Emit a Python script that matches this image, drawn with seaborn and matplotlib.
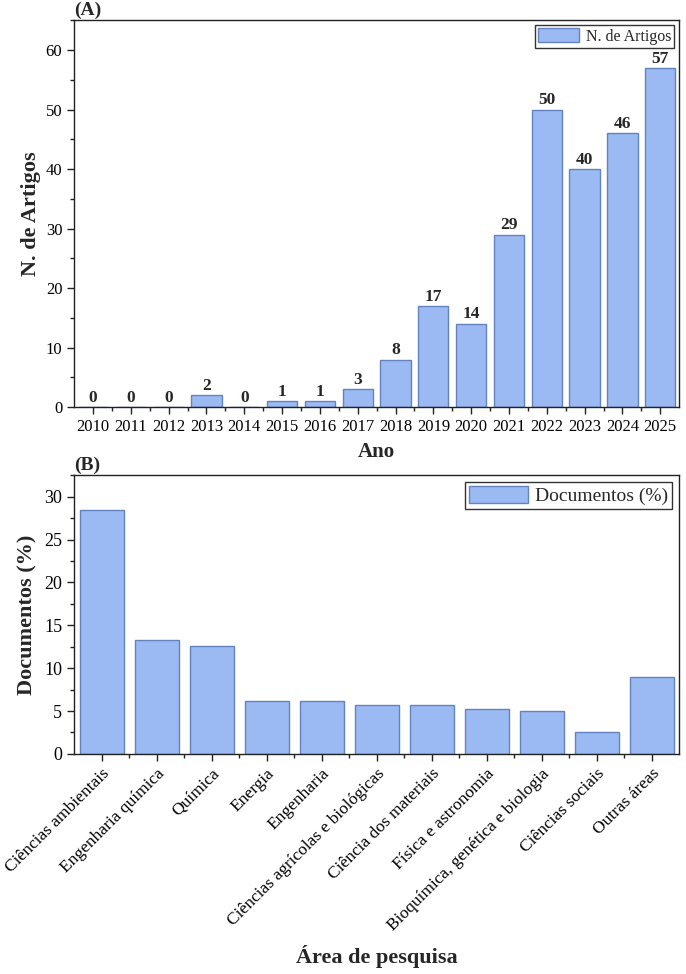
import numpy as np
import pandas as pd
import matplotlib
matplotlib.use("Agg")
import matplotlib.pyplot as plt
from matplotlib.ticker import MultipleLocator
import seaborn as sns

years = [str(y) for y in range(2010, 2026)]
n_artigos = [0, 0, 0, 2, 0, 1, 1, 3, 8, 17, 14, 29, 50, 40, 46, 57]

areas = [
    'Ciências ambientais', 'Engenharia química', 'Química', 'Energia',
    'Engenharia', 'Ciências agrícolas e biológicas', 'Ciência dos materiais',
    'Física e astronomia', 'Bioquímica, genética e biologia',
    'Ciências sociais', 'Outras áreas',
]
documentos = [28.5, 13.3, 12.6, 6.2, 6.2, 5.7, 5.7, 5.2, 5.0, 2.6, 9.0]

BAR = '#9bb9f2'
EDGE = '#6383bd'

sns.set_style('ticks')
plt.rcParams['font.family'] = ['Liberation Serif', 'DejaVu Serif']
plt.rcParams['xtick.direction'] = 'out'
plt.rcParams['ytick.direction'] = 'out'


def style_axes(ax):
    for s in ax.spines.values():
        s.set_visible(True)
        s.set_color('#222222')
        s.set_linewidth(1.0)
    ax.tick_params(axis='both', which='major', length=5, width=1, colors='#222222', labelcolor='black')
    ax.tick_params(axis='both', which='minor', length=3, width=1, colors='#222222')


def main():
    fig = plt.figure(figsize=(6.86, 9.74), dpi=100)
    ax1 = fig.add_axes([0.108, 0.582, 0.882, 0.397])
    ax2 = fig.add_axes([0.108, 0.226, 0.882, 0.286])

    # (A) artigos por ano
    df_a = pd.DataFrame({'Ano': years, 'N. de Artigos': n_artigos})
    sns.barplot(data=df_a, x='Ano', y='N. de Artigos', color=BAR, edgecolor=EDGE,
                linewidth=1.0, width=0.8, saturation=1, label='N. de Artigos', ax=ax1)
    for c in ax1.containers:
        ax1.bar_label(c, fmt='%d', padding=1, fontsize=12.5, fontweight='bold')
    ax1.set_ylim(0, 65)
    ax1.set_xlim(-0.5, len(years) - 0.5)
    ax1.yaxis.set_major_locator(MultipleLocator(10))
    ax1.yaxis.set_minor_locator(MultipleLocator(5))
    ax1.set_xticks(np.arange(len(years)))
    ax1.set_xticks(np.arange(len(years) - 1) + 0.5, minor=True)
    ax1.set_xlabel('Ano', fontsize=15, fontweight='bold', labelpad=5)
    ax1.set_ylabel('N. de Artigos', fontsize=16, fontweight='bold', labelpad=3)
    ax1.tick_params(axis='x', labelsize=12)
    ax1.tick_params(axis='y', labelsize=12)
    style_axes(ax1)
    leg = ax1.legend(loc='upper right', fontsize=11.5, frameon=True, fancybox=False,
                     edgecolor='black', handlelength=2.6, handleheight=0.9,
                     borderpad=0.2, handletextpad=0.4, borderaxespad=0.3)
    leg.get_frame().set_linewidth(1.0)
    ax1.text(0.0, 1.003, '(A)', transform=ax1.transAxes, fontsize=14, fontweight='bold',
             ha='left', va='bottom')

    # (B) documentos por área
    df_b = pd.DataFrame({'Área de pesquisa': areas, 'Documentos (%)': documentos})
    sns.barplot(data=df_b, x='Área de pesquisa', y='Documentos (%)', color=BAR, edgecolor=EDGE,
                linewidth=1.0, width=0.8, saturation=1, label='Documentos (%)', ax=ax2)
    ax2.set_ylim(0, 32.5)
    ax2.set_xlim(-0.5, len(areas) - 0.5)
    ax2.yaxis.set_major_locator(MultipleLocator(5))
    ax2.yaxis.set_minor_locator(MultipleLocator(2.5))
    ax2.set_xticks(np.arange(len(areas)))
    ax2.set_xticks(np.arange(len(areas) - 1) + 0.5, minor=True)
    ax2.set_xticklabels(areas, rotation=45, ha='right', rotation_mode='anchor', fontsize=12.5)
    ax2.set_xlabel('Área de pesquisa', fontsize=16, fontweight='bold', labelpad=8)
    ax2.set_ylabel('Documentos (%)', fontsize=16, fontweight='bold', labelpad=5)
    ax2.tick_params(axis='y', labelsize=13)
    style_axes(ax2)
    leg = ax2.legend(loc='upper right', fontsize=14, frameon=True, fancybox=False,
                     edgecolor='black', handlelength=3.0, handleheight=1.0,
                     borderpad=0.2, handletextpad=0.4, borderaxespad=0.35)
    leg.get_frame().set_linewidth(1.0)
    ax2.text(0.0, 1.003, '(B)', transform=ax2.transAxes, fontsize=14, fontweight='bold',
             ha='left', va='bottom')

    fig.savefig('out.png', dpi=100)


if __name__ == '__main__':
    main()
